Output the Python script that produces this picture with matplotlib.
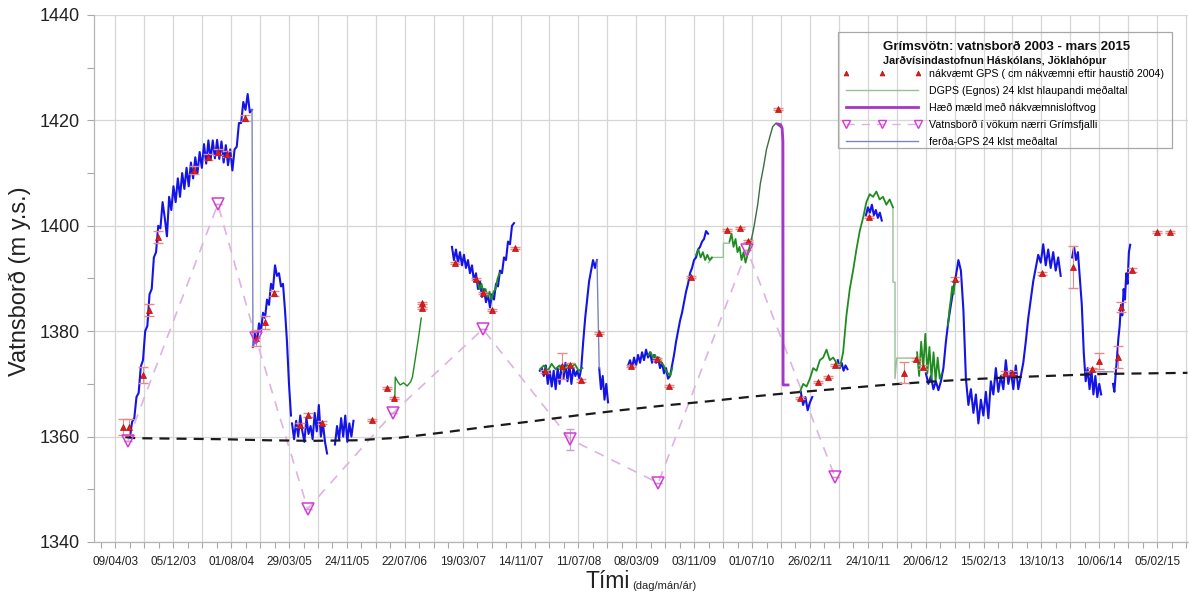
import numpy as np
import matplotlib
matplotlib.use("Agg")
import matplotlib.pyplot as plt
import matplotlib.dates as mdates
from matplotlib.lines import Line2D
from matplotlib.patches import Rectangle
from matplotlib.ticker import FixedLocator, FuncFormatter, MultipleLocator
from datetime import datetime, timedelta

plt.rcParams['font.family'] = ['Liberation Sans', 'DejaVu Sans']

# ---------------------------------------------------------------------------
# Data (time in decimal years, water level in m a.s.l.)
# ---------------------------------------------------------------------------

# Reference (lake-floor) level curve
base_t = [2003.38, 2003.5, 2004.0, 2004.5, 2005.0, 2005.5, 2006.0, 2006.5, 2007.0,
          2007.5, 2008.0, 2008.5, 2009.0, 2009.5, 2010.0, 2010.5, 2011.0, 2011.5,
          2012.0, 2012.5, 2013.0, 2013.5, 2014.0, 2014.5, 2015.0, 2015.44]
base_v = [1359.9, 1359.7, 1359.6, 1359.5, 1359.3, 1359.2, 1359.3, 1359.8, 1360.8,
          1361.9, 1362.9, 1364.0, 1365.0, 1365.9, 1366.7, 1367.6, 1368.4, 1369.1,
          1369.8, 1370.4, 1370.9, 1371.3, 1371.6, 1371.9, 1372.0, 1372.1]

# Precise GPS survey points
gps_t = [2003.35, 2003.42, 2003.58, 2003.65, 2003.75, 2004.16, 2004.32, 2004.43, 2004.54,
         2004.74, 2004.86, 2004.96, 2005.07, 2005.36, 2005.45, 2005.61, 2006.18, 2006.35,
         2006.43, 2006.75, 2006.75, 2007.12, 2007.36, 2007.44, 2007.54, 2007.80, 2008.15,
         2008.34, 2008.43, 2008.55, 2008.76, 2009.12, 2009.42, 2009.55, 2009.80, 2010.21,
         2010.36, 2010.45, 2010.79, 2011.04, 2011.24, 2011.36, 2011.44, 2011.82, 2012.22,
         2012.36, 2012.44, 2012.80, 2013.37, 2013.45, 2013.79, 2014.14, 2014.36, 2014.44,
         2014.65, 2014.69, 2014.81, 2015.10, 2015.24]
gps_v = [1361.8, 1361.8, 1371.7, 1384.0, 1397.9, 1410.6, 1413.1, 1414.0, 1413.6,
         1420.5, 1378.7, 1381.7, 1387.2, 1362.2, 1364.1, 1362.6, 1363.1, 1369.2,
         1367.3, 1385.3, 1384.4, 1393.0, 1389.9, 1387.2, 1384.0, 1395.8, 1372.4,
         1373.4, 1373.6, 1370.7, 1379.6, 1373.4, 1374.7, 1369.6, 1390.3, 1399.2,
         1399.6, 1397.1, 1422.2, 1367.3, 1370.4, 1371.3, 1373.6, 1401.7, 1372.1,
         1374.7, 1373.2, 1389.9, 1372.1, 1372.1, 1391.0, 1392.2, 1372.8, 1374.3,
         1375.1, 1384.6, 1391.6, 1398.8, 1398.8]
gps_err = [1.5, 1.5, 1.5, 1.2, 1.2, 0.8, 0.6, 0.6, 0.6,
           0.6, 1.5, 1.2, 0.5, 0.3, 0.3, 0.3, 0.2, 0.2,
           0.2, 0.2, 0.2, 0.2, 0.2, 0.2, 0.2, 0.2, 0.3,
           2.5, 0.3, 0.3, 0.2, 0.2, 0.2, 0.2, 0.2, 0.2,
           0.2, 0.2, 0.2, 0.2, 0.2, 0.2, 0.2, 0.2, 2.0,
           0.3, 0.3, 0.3, 0.3, 0.3, 0.3, 4.0, 0.3, 1.5,
           2.0, 1.0, 0.3, 0.2, 0.2]

# Water level in open cauldrons near Grímsfjall
vok_t = [2003.41, 2004.43, 2004.86, 2005.45, 2006.42, 2007.44, 2008.43, 2009.43, 2010.44, 2011.44]
vok_v = [1359.2, 1404.1, 1378.7, 1346.3, 1364.5, 1380.4, 1359.5, 1351.2, 1395.4, 1352.3]
vok_err = [0.0, 0.0, 0.0, 0.0, 0.0, 0.0, 2.0, 0.0, 0.0, 0.0]

# Barometric levelling during the 2010-2011 drop
baro_t = [2010.79, 2010.82, 2010.838, 2010.847, 2010.849, 2010.905]
baro_v = [1419.3, 1419.2, 1418.5, 1416.0, 1369.8, 1369.8]

# Travel-GPS daily solutions: (start, end, evenly spaced daily values)
gps_travel = [
    (2003.433, 2004.818,
     [1360.0, 1362.8, 1363.5, 1367.5, 1368.3, 1373.3, 1374.5, 1380.0, 1381.0, 1387.0,
      1388.0, 1394.0, 1395.0, 1400.0, 1399.5, 1404.5, 1401.5, 1398.0, 1405.5, 1403.0,
      1407.5, 1404.5, 1409.0, 1405.5, 1410.0, 1407.0, 1411.0, 1407.5, 1412.0, 1409.0,
      1413.0, 1410.0, 1414.0, 1411.0, 1415.5, 1411.8, 1416.2, 1412.5, 1416.2, 1412.8,
      1416.3, 1412.7, 1416.0, 1412.0, 1415.3, 1411.5, 1414.5, 1410.5, 1414.5, 1415.0,
      1419.5, 1419.5, 1423.5, 1422.0, 1425.0, 1421.5, 1422.0]),
    (2004.829, 2005.26,
     [1377, 1379.5, 1378, 1381.5, 1380, 1383.5, 1382.5, 1386, 1385, 1389,
      1388, 1392.5, 1390.5, 1391, 1388.5, 1389, 1384, 1378, 1370, 1364]),
    (2005.272, 2005.67,
     [1362.5, 1359.5, 1363, 1360, 1364, 1361, 1359, 1363.5, 1360.5, 1362,
      1359.5, 1364.5, 1361, 1366, 1360, 1362.5, 1359, 1356.8]),
    (2005.76, 2005.97,
     [1358.5, 1362, 1359.5, 1363.5, 1360, 1364, 1359, 1362.5, 1360, 1363]),
    (2007.089, 2007.794,
     [1396, 1393.5, 1395.5, 1393, 1395, 1392.5, 1394.5, 1392, 1393.5, 1391,
      1392.5, 1389.5, 1391, 1388, 1389.5, 1386.5, 1388, 1385.5, 1387, 1384.5,
      1387, 1386, 1389, 1388.5, 1391.5, 1391, 1394, 1393.5, 1397, 1396.5,
      1400, 1400.5]),
    (2008.088, 2008.735,
     [1372.5, 1373, 1371.5, 1373.5, 1370, 1372.5, 1369.5, 1372.5, 1369, 1373,
      1370, 1373.5, 1371, 1374, 1370.5, 1373.5, 1370, 1373, 1371.5, 1372.5,
      1371, 1373, 1378, 1382.5, 1386, 1389.5, 1391.5, 1393.5, 1392, 1393.5]),
    (2008.76, 2008.86, [1373, 1369, 1371.5, 1367, 1370, 1366.5]),
    (2009.087, 2009.996,
     [1373.5, 1374.5, 1373, 1375, 1373.5, 1375.5, 1374, 1376, 1374.5, 1376.5,
      1375, 1376, 1374, 1375.5, 1374, 1375, 1373, 1374, 1372, 1373,
      1371, 1371.5, 1373.5, 1375.5, 1378, 1380, 1382, 1383.5, 1385.5, 1387.5,
      1389, 1391, 1392, 1393.5, 1394, 1395.5, 1396, 1397, 1397.5, 1399, 1398.5]),
    (2011.05, 2011.18, [1368.5, 1366, 1367.5, 1365, 1366.5, 1367.5]),
    (2011.47, 2011.58, [1374.5, 1373, 1374, 1372.5, 1373.5, 1372.8]),
    (2011.79, 2011.97, [1402, 1403.5, 1402.5, 1404, 1402, 1403, 1401.5, 1402.5, 1401]),
    (2012.47, 2014.00,
     [1372, 1370, 1371.5, 1369, 1370.5, 1368.8, 1370.5, 1373, 1378, 1382,
      1385, 1388, 1390.5, 1393.5, 1391.5, 1384, 1371, 1366, 1369, 1364.5,
      1368, 1362.5, 1367, 1364, 1368.5, 1363.5, 1370.5, 1368, 1373, 1368.5,
      1371.5, 1369, 1374.5, 1370, 1372.5, 1369, 1373.5, 1369, 1371.5, 1374,
      1378, 1382.5, 1386, 1389.5, 1392, 1394.5, 1393, 1396.5, 1392.5, 1395.5,
      1392, 1395, 1391.5, 1394, 1390.5]),
    (2014.13, 2014.46,
     [1394, 1396, 1393.5, 1395, 1390, 1385, 1376, 1370.5, 1373, 1369,
      1372.5, 1368, 1371.5, 1367.5, 1370, 1368]),
    (2014.595, 2014.79,
     [1370, 1368.5, 1372, 1375, 1378.5, 1381, 1385, 1383, 1388, 1386,
      1391, 1389, 1395, 1396.4]),
]

# DGPS (Egnos) daily solutions: (start, end, evenly spaced values)
gps_dgps = [
    (2007.38, 2007.63, [1389.5, 1388, 1389, 1387, 1388, 1386.5, 1387.5, 1386, 1387.5, 1388, 1390, 1391]),
    (2008.09, 2008.57, [1372.8, 1373.5, 1372.5, 1373.8, 1372.8, 1373.5, 1372.2, 1373.6, 1373.0, 1373.8, 1372.5, 1373.0]),
    (2009.32, 2009.59, [1375.5, 1376, 1375, 1375.5, 1374.5, 1375, 1374, 1373.5, 1372.5, 1372, 1371.5, 1373]),
    (2009.86, 2010.04, [1394.5, 1395.5, 1394, 1395, 1393.5, 1394.5, 1393.5, 1394]),
    (2010.24, 2010.49, [1397, 1398.5, 1396, 1397.5, 1395, 1396, 1393.5, 1395, 1393, 1394.5, 1396, 1397.5]),
    (2011.04, 2012.097,
     [1368.5, 1370, 1369.5, 1371, 1373, 1372.5, 1374.5, 1375, 1376.5, 1374.5,
      1375, 1374, 1373, 1376, 1383, 1388, 1391.5, 1395.5, 1399, 1401.5,
      1404.5, 1406, 1405.5, 1406.5, 1405, 1405.5, 1404, 1405, 1403.5]),
    (2012.37, 2012.65, [1376, 1371.5, 1378, 1373, 1379.5, 1372, 1377, 1371, 1376, 1370.5, 1375, 1371, 1372]),
    (2012.72, 2012.80, [1381, 1384, 1386, 1388.5, 1387, 1390]),
]

# DGPS 24 h running mean (2006 and 2010 rise)
dgps_2006_t = [2006.44, 2006.445, 2006.47, 2006.50, 2006.54, 2006.58, 2006.62, 2006.64, 2006.67, 2006.71, 2006.74]
dgps_2006_v = [1367.5, 1371.3, 1370.5, 1369.8, 1370.2, 1369.6, 1370.4, 1371.3, 1374.5, 1378.9, 1382.5]
dgps_2010_t = [2010.49, 2010.52, 2010.56, 2010.59, 2010.63, 2010.66, 2010.70, 2010.73, 2010.77, 2010.80, 2010.836]
dgps_2010_v = [1397.5, 1400, 1404, 1408, 1411.5, 1414.5, 1417, 1418.8, 1419.5, 1419, 1418.5]
dgps_step_t = [2010.00, 2010.05, 2010.17, 2010.17, 2010.24, np.nan,
               2012.097, 2012.097, 2012.12, 2012.12, 2012.14, 2012.37]
dgps_step_v = [1393.0, 1394.0, 1394.0, 1396.7, 1396.7, np.nan,
               1403.5, 1389.3, 1389.3, 1371.0, 1374.9, 1374.9]

# Travel-GPS 24 h mean: connecting pieces
travel_mean_t = [2004.818, 2004.829, np.nan, 2008.735, 2008.76, np.nan, 2014.28, 2014.595]
travel_mean_v = [1422.0, 1377.0, np.nan, 1393.5, 1373.0, np.nan, 1372.3, 1372.3]

# Date axis
label_start = datetime(2003, 4, 9)
label_step_days = 240
grid_step_days = 120
tick_step_days = 60
x_min = datetime(2003, 1, 10)
x_max = datetime(2015, 6, 13)

# ---------------------------------------------------------------------------
# Helpers
# ---------------------------------------------------------------------------
def to_num(years):
    out = []
    for v in np.atleast_1d(np.asarray(years, dtype=float)):
        if np.isnan(v):
            out.append(np.nan)
            continue
        yr = int(v)
        start = datetime(yr, 1, 1)
        length = (datetime(yr + 1, 1, 1) - start).days
        out.append(mdates.date2num(start + timedelta(days=(v - yr) * length)))
    return np.array(out)


# ---------------------------------------------------------------------------
# Figure
# ---------------------------------------------------------------------------
W, H = 1189, 594
fig = plt.figure(figsize=(W / 100, H / 100), dpi=100)
ax = fig.add_axes([94 / W, 1 - 542 / H, (1188 - 94) / W, (542 - 15) / H])

C_BLUE = '#1414e6'
C_GREEN = '#1f8c1f'
C_RED = '#e21a1a'
C_MAG = '#d23cd2'
C_MAGLINE = '#dfb3df'
C_PURPLE = '#a636c8'
C_DGPS = '#98bf98'
C_TRAVEL = '#7d86b8'

# Cauldron levels with dashed connection
ax.plot(to_num(vok_t), vok_v, color=C_MAGLINE, lw=1.2, dashes=(6, 5), zorder=2)
ax.errorbar(to_num(vok_t), vok_v, yerr=vok_err, fmt='none', ecolor='#c8a0c8',
            elinewidth=0.8, capsize=3, zorder=2)

# Travel GPS daily series
for t0, t1, vals in gps_travel:
    tt = to_num(np.linspace(t0, t1, len(vals)))
    ax.plot(tt, vals, color=C_BLUE, lw=1.5, zorder=3)

# DGPS daily series
for t0, t1, vals in gps_dgps:
    tt = to_num(np.linspace(t0, t1, len(vals)))
    ax.plot(tt, vals, color=C_GREEN, lw=1.3, zorder=3.2)

ax.plot(to_num(dgps_2006_t), dgps_2006_v, color=C_GREEN, lw=1.0, zorder=3.2)
ax.plot(to_num(dgps_2010_t), dgps_2010_v, color='#3d6b45', lw=1.0, zorder=3.2)
ax.plot(to_num(dgps_step_t), dgps_step_v, color=C_DGPS, lw=1.0, zorder=3.1)
ax.plot(to_num(travel_mean_t), travel_mean_v, color=C_TRAVEL, lw=1.0, zorder=3.1)

# Barometric levelling
ax.plot(to_num(baro_t), baro_v, color=C_PURPLE, lw=2.0, zorder=3.5)

# Reference level curve
ax.plot(to_num(base_t), base_v, color='#1a1a1a', lw=1.6, dashes=(4.5, 3.2), zorder=4)

# Precise GPS points
ax.errorbar(to_num(gps_t), gps_v, yerr=gps_err, fmt='none', ecolor='#e88a8a',
            elinewidth=0.8, capsize=3.5, zorder=4.5)
ax.plot(to_num(gps_t), gps_v, ls='none', marker='^', ms=4.5, mfc=C_RED,
        mec='#b01010', mew=0.5, zorder=5)

# Cauldron markers on top
ax.plot(to_num(vok_t), vok_v, ls='none', marker='v', ms=8, mfc='none',
        mec=C_MAG, mew=1.1, zorder=5)

# Axes ---------------------------------------------------------------------
ax.set_xlim(mdates.date2num(x_min), mdates.date2num(x_max))
ax.set_ylim(1340, 1440)
ax.yaxis.set_major_locator(MultipleLocator(20))
ax.yaxis.set_minor_locator(MultipleLocator(10))

x_lo, x_hi = mdates.date2num(x_min), mdates.date2num(x_max)
t_label0 = mdates.date2num(label_start)
grid_pos = [t_label0 + k * grid_step_days for k in range(-1, 40)
            if x_lo <= t_label0 + k * grid_step_days <= x_hi]
tick_pos = [t_label0 + k * tick_step_days for k in range(-2, 80)
            if x_lo <= t_label0 + k * tick_step_days <= x_hi]
minor_pos = [p for p in tick_pos if all(abs(p - g) > 1 for g in grid_pos)]
ax.xaxis.set_major_locator(FixedLocator(grid_pos))
ax.xaxis.set_minor_locator(FixedLocator(minor_pos))


def fmt_date(x, pos):
    k = round((x - t_label0) / grid_step_days)
    if k % 2 != 0:
        return ''
    return mdates.num2date(x).strftime('%d/%m/%y')


ax.xaxis.set_major_formatter(FuncFormatter(fmt_date))

ax.grid(which='major', color='#d6d6d6', lw=0.9, zorder=0)
ax.set_axisbelow(True)
for side in ('top', 'right'):
    ax.spines[side].set_visible(False)
for side in ('left', 'bottom'):
    ax.spines[side].set_color('#b5b5b5')
    ax.spines[side].set_linewidth(0.9)

ax.tick_params(axis='both', which='both', direction='out', color='#a8a8a8', width=0.8)
ax.tick_params(axis='x', which='both', length=4, labelsize=8.5, pad=6, labelcolor='#222222')
ax.tick_params(axis='y', which='major', length=5, labelsize=13, pad=5, labelcolor='#222222')
ax.tick_params(axis='y', which='minor', length=5)

fig.text(20 / W, 1 - 281 / H, 'Vatnsborð (m y.s.)', rotation=90, ha='center',
         va='center', fontsize=17, color='#222222')
fig.text(585 / W, 1 - 582 / H, 'Tími', ha='left', va='center', fontsize=16.5, color='#222222')
fig.text(632 / W, 1 - 586 / H, '(dag/mán/ár)', ha='left', va='center', fontsize=8, color='#222222')

# Legend box -----------------------------------------------------------------
box = Rectangle((838 / W, 1 - 148 / H), (1172 - 838) / W, (148 - 32) / H,
                transform=fig.transFigure, fill=False, edgecolor='#a8a8a8', lw=0.9)
fig.patches.append(box)
fig.text(883 / W, 1 - 47 / H, 'Grímsvötn: vatnsborð 2003 - mars 2015', ha='left',
         va='center', fontsize=9.5, fontweight='bold', color='#111111')
fig.text(883 / W, 1 - 61 / H, 'Jarðvísindastofnun Háskólans, Jöklahópur', ha='left',
         va='center', fontsize=7.8, fontweight='bold', color='#111111')

handles = [
    Line2D([], [], ls='none', marker='^', ms=3.5, mfc=C_RED, mec='#b01010', mew=0.5),
    Line2D([], [], color=C_DGPS, lw=1.0),
    Line2D([], [], color=C_PURPLE, lw=2.0),
    Line2D([], [], color=C_MAGLINE, lw=1.0, dashes=(6, 5), marker='v', ms=6,
           mfc='none', mec=C_MAG, mew=1.0),
    Line2D([], [], color=C_TRAVEL, lw=1.0),
]
labels = [
    'nákvæmt GPS ( cm nákvæmni eftir haustið 2004)',
    'DGPS (Egnos) 24 klst hlaupandi meðaltal',
    'Hæð mæld með nákvæmnisloftvog',
    'Vatnsborð í vökum nærri Grímsfjalli',
    'ferða-GPS 24 klst meðaltal',
]
fig.legend(handles, labels, loc='upper left', bbox_to_anchor=(843 / W, 1 - 69 / H),
           bbox_transform=fig.transFigure, frameon=False, fontsize=7.7,
           numpoints=3, handlelength=7.3, handletextpad=0.75, labelspacing=0.64,
           borderaxespad=0, borderpad=0)

fig.savefig('out.png', dpi=100)
